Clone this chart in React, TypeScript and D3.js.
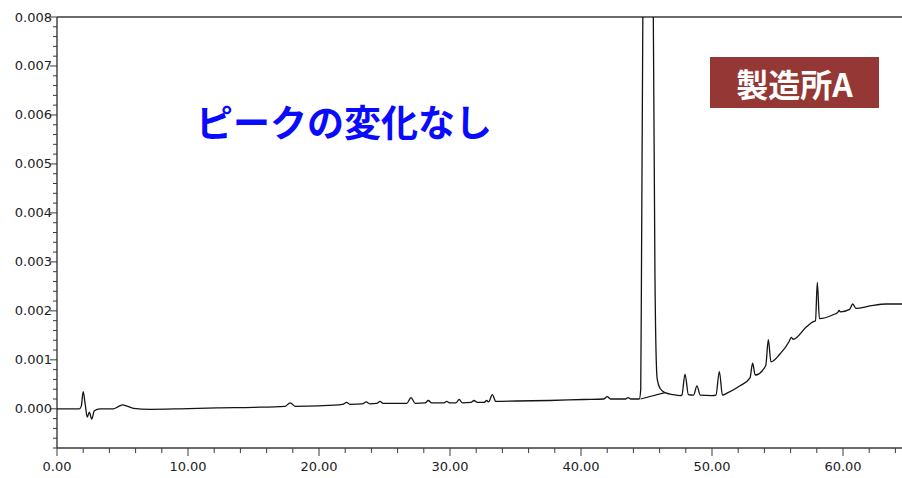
import React from "react";
import * as d3 from "d3";

// Chromatogram trace: retention time (min) and detector response
const traceTime = [
  0, 1.7, 1.85, 2.0, 2.15, 2.31, 2.47, 2.65, 2.85, 3.28, 4.3, 4.7, 5.01, 5.4, 5.83, 7.1, 9.39,
  12.2, 15.0, 17.4, 17.8, 18.2, 20.0, 21.8, 22.1, 22.4, 23.3, 23.6, 23.9, 24.4, 24.66, 24.9,
  26.7, 27.02, 27.35, 28.1, 28.35, 28.6, 29.5, 29.75, 30.0, 30.45, 30.7, 30.95, 31.6, 31.83,
  32.1, 32.6, 32.8, 32.95, 33.23, 33.5, 35.1, 37.6, 40.2, 41.75, 42.0, 42.25, 43.4, 43.6, 43.8,
  44.45, 44.56, 44.62, 44.72, 44.76, 45.5, 45.52, 45.65, 45.78, 45.83, 46.03, 46.41, 47.05,
  47.56, 47.7, 47.94, 48.2, 48.6, 48.85, 49.1, 50.0, 50.3, 50.56, 50.8, 51.15, 52.14, 52.9,
  53.1, 53.3, 54.1, 54.3, 54.5, 55.19, 55.9, 56.05, 56.2, 57.23, 57.73, 57.9, 58.04, 58.2,
  59.24, 59.6, 59.7, 59.8, 60.5, 60.74, 61.0, 62.06, 63.34, 64.48, 65,
];
const traceResponse = [
  0, 0, 0.00005, 0.00035, 0.0001, -0.00017, -0.00007, -0.00021, -0.00004, 0, 0, 0.00005,
  0.00008, 0.00005, 0.00001, -0.00001, 0, 0.00002, 0.00003, 0.00005, 0.00012, 0.00005,
  0.00006, 0.00009, 0.00013, 0.00009, 0.0001, 0.00014, 0.0001, 0.00011, 0.00015, 0.00011,
  0.00011, 0.00023, 0.00011, 0.00012, 0.00017, 0.00012, 0.00012, 0.00015, 0.00012, 0.00012,
  0.00019, 0.00012, 0.00013, 0.00017, 0.00013, 0.00013, 0.00017, 0.00014, 0.00029, 0.00015,
  0.00016, 0.00017, 0.00019, 0.0002, 0.00025, 0.0002, 0.0002, 0.00023, 0.0002, 0.0002,
  0.0004, 0.003, 0.008, 0.0095, 0.0095, 0.008, 0.0026, 0.00073, 0.00059, 0.00042, 0.00033,
  0.00029, 0.00027, 0.00028, 0.00071, 0.00029, 0.00028, 0.00047, 0.00028, 0.00027, 0.00028,
  0.00076, 0.00028, 0.00032, 0.00047, 0.00063, 0.00093, 0.00069, 0.00088, 0.00141, 0.00096,
  0.00112, 0.00138, 0.00146, 0.00142, 0.00168, 0.00178, 0.0018, 0.00258, 0.00184, 0.00192,
  0.00197, 0.00201, 0.00198, 0.00203, 0.00214, 0.00205, 0.0021, 0.00214, 0.00214, 0.00215,
];

// Baseline drawn beneath the large peak
const baselineTime = [44.55, 46.4];
const baselineResponse = [0.0002, 0.00033];

const yTickValues = [0, 0.001, 0.002, 0.003, 0.004, 0.005, 0.006, 0.007, 0.008];
const xTickValues = [0, 10, 20, 30, 40, 50, 60];

const titleText = "ピークの変化なし";
const badgeText = "製造所A";

const W = 902;
const H = 478;

export default function App() {
  const x = d3.scaleLinear().domain([0, 65]).range([57, 908.5]);
  const y = d3.scaleLinear().domain([-0.0008, 0.008]).range([448, 17]);

  const plotLeft = x(0);
  const plotRight = W;
  const plotTop = y(0.008);
  const plotBottom = y(-0.0008);

  const line = d3
    .line<[number, number]>()
    .x((d) => x(d[0]))
    .y((d) => y(d[1]))
    .curve(d3.curveMonotoneX);

  const straight = d3
    .line<[number, number]>()
    .x((d) => x(d[0]))
    .y((d) => y(d[1]));

  const trace = traceTime.map((t, i) => [t, traceResponse[i]] as [number, number]);
  const base = baselineTime.map((t, i) => [t, baselineResponse[i]] as [number, number]);

  const yMinor = d3.range(-0.0008, 0.00801, 0.0002).filter(
    (v) => !yTickValues.some((m) => Math.abs(m - v) < 1e-9)
  );
  const xMinor = d3.range(0, 65.01, 2).filter((v) => !xTickValues.includes(v));

  const fmtY = d3.format(".3f");
  const fmtX = d3.format(".2f");
  const axisColor = "#3a3a3a";
  const labelFont = "'DejaVu Sans', Verdana, sans-serif";

  return (
    <svg
      width={W}
      height={H}
      style={{ position: "absolute", left: 0, top: 0, background: "#fff" }}
    >
      <defs>
        <clipPath id="plot-clip">
          <rect x={plotLeft} y={plotTop} width={plotRight - plotLeft} height={plotBottom - plotTop} />
        </clipPath>
      </defs>

      {/* frame */}
      <line x1={plotLeft} x2={plotRight} y1={plotTop} y2={plotTop} stroke={axisColor} strokeWidth={1.6} />
      <line x1={plotLeft} x2={plotRight} y1={plotBottom} y2={plotBottom} stroke={axisColor} strokeWidth={1.6} />
      <line x1={plotLeft} x2={plotLeft} y1={plotTop} y2={plotBottom} stroke={axisColor} strokeWidth={1.4} />

      {/* y axis ticks */}
      {yMinor.map((v, i) => (
        <line key={"ym" + i} x1={plotLeft - 4} x2={plotLeft} y1={y(v)} y2={y(v)} stroke={axisColor} strokeWidth={1} />
      ))}
      {yTickValues.map((v) => (
        <g key={"y" + v}>
          <line x1={plotLeft - 7} x2={plotLeft} y1={y(v)} y2={y(v)} stroke={axisColor} strokeWidth={1} />
          <text
            x={plotLeft - 5}
            y={y(v)}
            textAnchor="end"
            dominantBaseline="central"
            fontFamily={labelFont}
            fontSize={13}
            fill="#222"
          >
            {fmtY(v)}
          </text>
        </g>
      ))}

      {/* x axis ticks */}
      {xMinor.map((v, i) => (
        <line key={"xm" + i} x1={x(v)} x2={x(v)} y1={plotBottom} y2={plotBottom + 5} stroke={axisColor} strokeWidth={1} />
      ))}
      {xTickValues.map((v) => (
        <g key={"x" + v}>
          <line x1={x(v)} x2={x(v)} y1={plotBottom} y2={plotBottom + 8} stroke={axisColor} strokeWidth={1} />
          <text
            x={x(v)}
            y={471}
            textAnchor="middle"
            fontFamily={labelFont}
            fontSize={13}
            fill="#222"
          >
            {fmtX(v)}
          </text>
        </g>
      ))}

      {/* trace */}
      <g clipPath="url(#plot-clip)">
        <path d={line(trace) ?? ""} fill="none" stroke="#141414" strokeWidth={1.3} strokeLinejoin="round" />
        <path d={straight(base) ?? ""} fill="none" stroke="#141414" strokeWidth={1.1} />
      </g>

      {/* annotation */}
      <text
        x={196}
        y={121}
        dominantBaseline="central"
        fontFamily="'Noto Sans CJK JP', sans-serif"
        fontWeight={700}
        fontSize={37}
        fill="#0a0aff"
      >
        {titleText}
      </text>

      {/* badge */}
      <rect x={710} y={57} width={169} height={51} fill="#953735" />
      <text
        x={794.5}
        y={83}
        textAnchor="middle"
        dominantBaseline="central"
        fontFamily="'Noto Sans CJK JP', sans-serif"
        fontWeight={700}
        fontSize={32}
        fill="#fff"
      >
        {badgeText}
      </text>
    </svg>
  );
}
